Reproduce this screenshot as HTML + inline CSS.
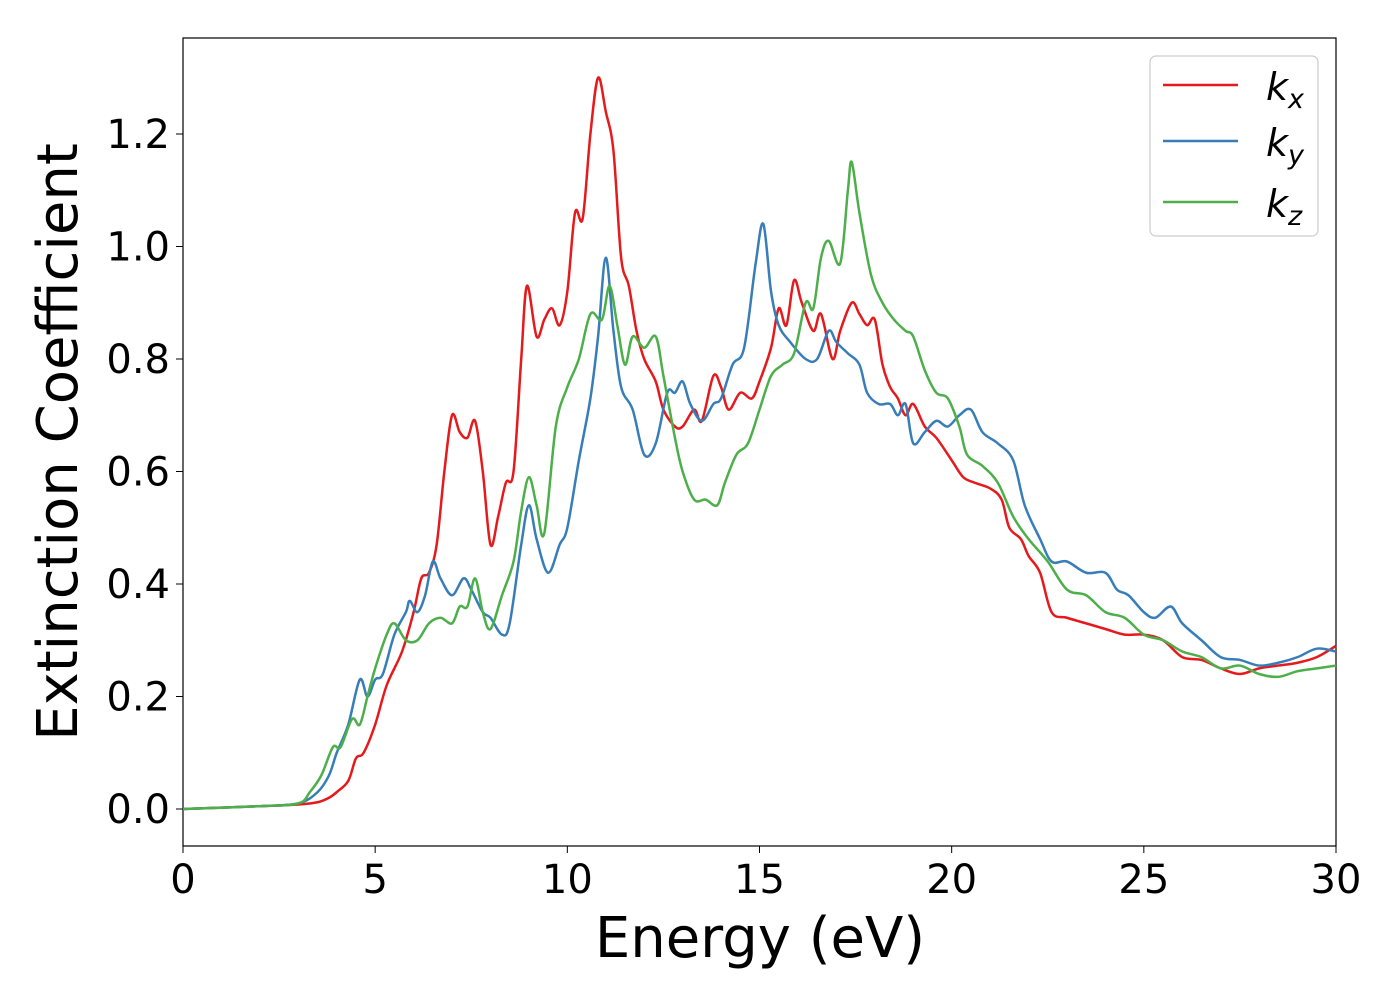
<!DOCTYPE html>
<html><head><meta charset="utf-8"><style>
html,body{margin:0;padding:0;background:#fff;}
svg{display:block;font-family:"DejaVu Sans","Liberation Sans",sans-serif;}
</style></head><body>
<svg id="chart" width="1400" height="1000">
<rect x="183" y="38" width="1153" height="808" fill="#fff" stroke="#000" stroke-width="1.2"/>
<g id="series"></g>
<g id="axes"></g>
<text x="760" y="957" font-size="56" text-anchor="middle">Energy (eV)</text>
<text transform="translate(77,442) rotate(-90)" font-size="56" text-anchor="middle">Extinction Coefficient</text>
<g>
<rect x="1150" y="56" width="168" height="180" rx="6" fill="#fff" stroke="#ccc" stroke-width="1.2"/>
<g><line x1="1163" y1="85" x2="1238" y2="85" stroke="#e41a1c" stroke-width="2.5"/><text x="1266" y="100" font-size="38" font-style="italic">k<tspan font-size="27" dy="8">x</tspan></text></g>
<g><line x1="1163" y1="141" x2="1238" y2="141" stroke="#377eb8" stroke-width="2.5"/><text x="1266" y="156" font-size="38" font-style="italic">k<tspan font-size="27" dy="8">y</tspan></text></g>
<g><line x1="1163" y1="202" x2="1238" y2="202" stroke="#4daf4a" stroke-width="2.5"/><text x="1266" y="217" font-size="38" font-style="italic">k<tspan font-size="27" dy="8">z</tspan></text></g>
</g>
</svg>
<script>
const xTicks=[0,5,10,15,20,25,30];
const yTicks=[0.0,0.2,0.4,0.6,0.8,1.0,1.2];
const yTickLabels=["0.0","0.2","0.4","0.6","0.8","1.0","1.2"];
const kxE=[0,2,3,3.5,3.8,4,4.3,4.5,4.7,5,5.3,5.7,6,6.2,6.4,6.6,6.8,7,7.2,7.4,7.6,7.8,8,8.2,8.4,8.6,8.8,8.95,9.2,9.4,9.6,9.8,10,10.2,10.4,10.6,10.8,11,11.2,11.4,11.6,11.8,12,12.3,12.5,12.8,13,13.3,13.5,13.8,14,14.2,14.5,14.8,15,15.3,15.5,15.7,15.9,16.1,16.4,16.6,16.9,17.1,17.4,17.6,17.8,18,18.2,18.4,18.6,18.8,19,19.3,19.6,20,20.3,20.6,21,21.3,21.5,21.8,22,22.3,22.6,23,23.5,24,24.5,25,25.5,26,26.5,27,27.5,28,28.5,29,29.5,30];
const kxV=[0,0.005,0.008,0.012,0.02,0.03,0.05,0.09,0.1,0.15,0.22,0.28,0.35,0.41,0.42,0.47,0.6,0.7,0.67,0.66,0.69,0.6,0.47,0.52,0.58,0.6,0.8,0.93,0.84,0.87,0.89,0.86,0.92,1.06,1.05,1.2,1.3,1.24,1.17,0.98,0.93,0.85,0.8,0.76,0.71,0.68,0.68,0.71,0.69,0.77,0.75,0.71,0.74,0.73,0.76,0.82,0.89,0.86,0.94,0.9,0.85,0.88,0.8,0.85,0.9,0.88,0.86,0.87,0.79,0.75,0.73,0.7,0.72,0.68,0.66,0.62,0.59,0.58,0.57,0.55,0.5,0.48,0.45,0.42,0.35,0.34,0.33,0.32,0.31,0.31,0.3,0.27,0.265,0.25,0.24,0.25,0.255,0.26,0.27,0.29];
const kyE=[0,2,3,3.5,3.8,4,4.3,4.6,4.8,5,5.2,5.5,5.8,5.9,6.1,6.3,6.5,6.7,7,7.3,7.5,7.8,8,8.3,8.5,8.8,9,9.2,9.5,9.8,10,10.3,10.6,10.8,11,11.2,11.4,11.7,12,12.3,12.6,12.8,13,13.2,13.5,13.8,14,14.3,14.6,14.9,15.1,15.3,15.5,15.8,16.2,16.5,16.8,17,17.3,17.6,17.8,18.1,18.4,18.6,18.8,19,19.3,19.6,19.9,20.2,20.5,20.8,21.2,21.6,21.9,22.3,22.6,23,23.5,24,24.3,24.6,25,25.3,25.7,26,26.5,27,27.5,28,28.5,29,29.5,30];
const kyV=[0,0.005,0.01,0.03,0.06,0.1,0.15,0.23,0.2,0.23,0.24,0.31,0.35,0.37,0.35,0.38,0.44,0.41,0.38,0.41,0.39,0.35,0.34,0.31,0.33,0.47,0.54,0.48,0.42,0.47,0.5,0.62,0.73,0.84,0.98,0.85,0.75,0.71,0.63,0.65,0.74,0.74,0.76,0.72,0.69,0.72,0.73,0.79,0.82,0.97,1.04,0.92,0.86,0.83,0.8,0.8,0.85,0.83,0.81,0.79,0.74,0.72,0.72,0.7,0.72,0.65,0.67,0.69,0.68,0.7,0.71,0.67,0.65,0.62,0.54,0.48,0.44,0.44,0.42,0.42,0.39,0.38,0.35,0.34,0.36,0.33,0.3,0.27,0.265,0.255,0.26,0.27,0.285,0.28];
const kzE=[0,2,3,3.3,3.6,3.9,4.1,4.4,4.6,4.8,5,5.3,5.5,5.8,6.1,6.4,6.7,7,7.2,7.4,7.6,7.8,8,8.3,8.6,8.8,9,9.2,9.4,9.7,10,10.3,10.6,10.9,11.1,11.3,11.5,11.7,12,12.3,12.5,12.8,13,13.3,13.6,13.9,14.1,14.4,14.7,15,15.3,15.6,15.9,16.2,16.4,16.6,16.8,17.1,17.3,17.4,17.6,17.9,18.2,18.5,18.8,19,19.3,19.6,19.9,20.2,20.4,20.8,21.2,21.6,22,22.5,23,23.5,24,24.5,25,25.5,26,26.5,27,27.5,28,28.5,29,29.5,30];
const kzV=[0,0.005,0.01,0.03,0.06,0.11,0.11,0.16,0.15,0.2,0.25,0.31,0.33,0.3,0.3,0.33,0.34,0.33,0.36,0.36,0.41,0.35,0.32,0.38,0.44,0.53,0.59,0.54,0.49,0.68,0.75,0.8,0.88,0.87,0.93,0.86,0.79,0.84,0.82,0.84,0.77,0.66,0.6,0.55,0.55,0.54,0.58,0.63,0.65,0.71,0.77,0.79,0.81,0.9,0.89,0.98,1.01,0.97,1.1,1.15,1.06,0.95,0.9,0.87,0.85,0.84,0.78,0.74,0.73,0.68,0.63,0.61,0.58,0.52,0.48,0.44,0.39,0.38,0.35,0.34,0.31,0.3,0.28,0.27,0.25,0.255,0.24,0.235,0.245,0.25,0.255];
const NS="http://www.w3.org/2000/svg";
const sx=v=>183+v*(1153/30);
const sy=v=>809-v*562.5;
const axes=document.getElementById('axes');
xTicks.forEach(t=>{
 const l=document.createElementNS(NS,'line');
 l.setAttribute('x1',sx(t));l.setAttribute('x2',sx(t));l.setAttribute('y1',846);l.setAttribute('y2',853);l.setAttribute('stroke','#000');
 
 
 axes.appendChild(l);
 const tx=document.createElementNS(NS,'text');
 tx.setAttribute('x',sx(t));tx.setAttribute('y',893);tx.setAttribute('font-size','40');tx.setAttribute('text-anchor','middle');
 tx.textContent=t;
 
 
 axes.appendChild(tx);
});
yTicks.forEach((t,i)=>{
 const l=document.createElementNS(NS,'line');
 l.setAttribute('x1',176);l.setAttribute('x2',183);l.setAttribute('y1',sy(t));l.setAttribute('y2',sy(t));l.setAttribute('stroke','#000');
 
 
 axes.appendChild(l);
 const tx=document.createElementNS(NS,'text');
 tx.setAttribute('x',170);tx.setAttribute('y',sy(t)+14);tx.setAttribute('font-size','40');tx.setAttribute('text-anchor','end');
 tx.textContent=yTickLabels[i];
 
 
 axes.appendChild(tx);
});
function smoothPath(E,V){
 const p=E.map((e,i)=>[sx(e),sy(V[i])]);
 let d='M'+p[0][0]+','+p[0][1];
 for(let i=0;i<p.length-1;i++){
  const p0=p[i-1]||p[i],p1=p[i],p2=p[i+1],p3=p[i+2]||p2;
  const c1=[p1[0]+(p2[0]-p0[0])/6,p1[1]+(p2[1]-p0[1])/6];
  const c2=[p2[0]-(p3[0]-p1[0])/6,p2[1]-(p3[1]-p1[1])/6];
  d+=' C'+c1[0]+','+c1[1]+' '+c2[0]+','+c2[1]+' '+p2[0]+','+p2[1];
 }
 return d;
}
const g=document.getElementById('series');
[[kxE,kxV,'#e41a1c','line-kx'],[kyE,kyV,'#377eb8','line-ky'],[kzE,kzV,'#4daf4a','line-kz']].forEach(s=>{
 const path=document.createElementNS(NS,'path');
 path.setAttribute('d',smoothPath(s[0],s[1]));
 path.setAttribute('fill','none');path.setAttribute('stroke',s[2]);path.setAttribute('stroke-width','2.5');
 
 
 g.appendChild(path);
});
</script>
</body></html>
